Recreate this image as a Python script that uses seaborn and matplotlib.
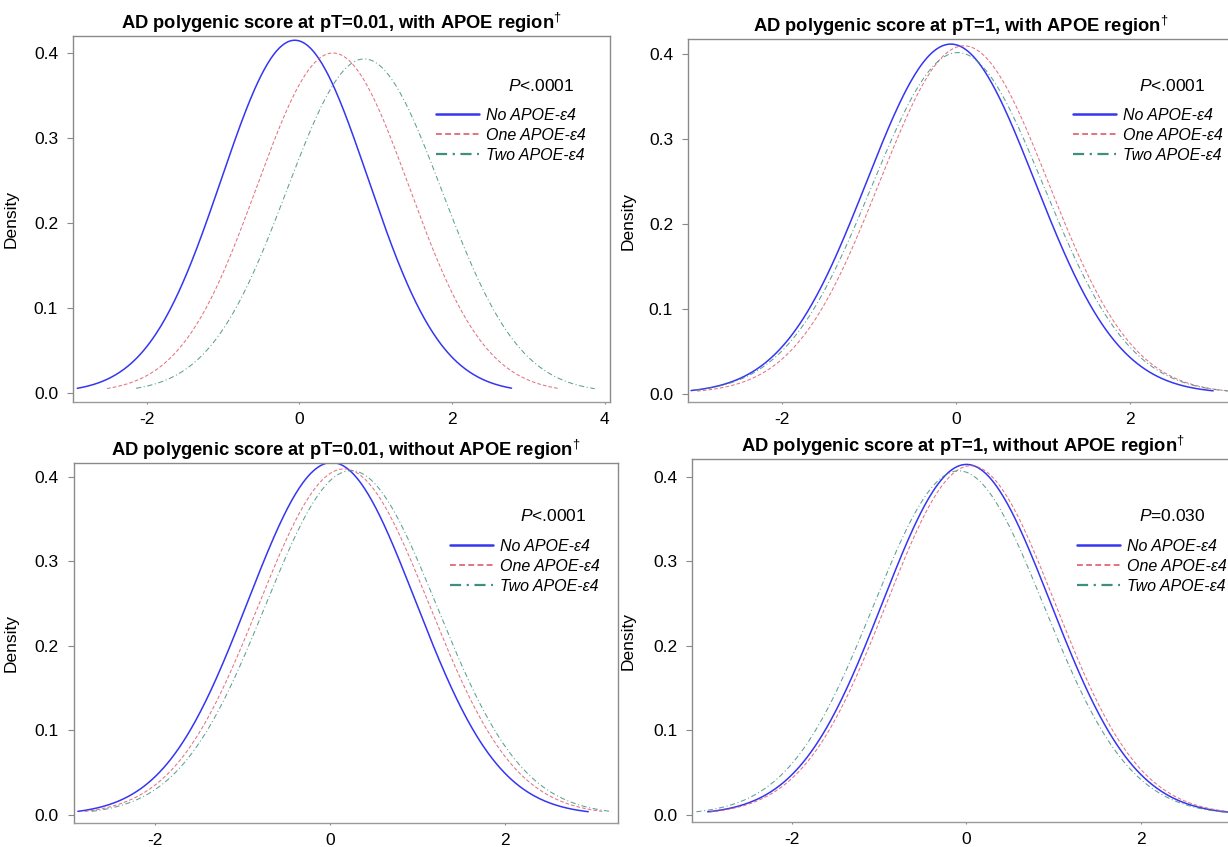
import numpy as np
import pandas as pd
import matplotlib
matplotlib.use("Agg")
import matplotlib.pyplot as plt
import seaborn as sns

# groups and panels
groups = ["No APOE-ε4", "One APOE-ε4", "Two APOE-ε4"]
titles = ["AD polygenic score at pT=0.01, with APOE region",
          "AD polygenic score at pT=1, with APOE region",
          "AD polygenic score at pT=0.01, without APOE region",
          "AD polygenic score at pT=1, without APOE region"]
p_texts = ["<.0001", "<.0001", "<.0001", "=0.030"]

# density curves: peak location, peak height, start / end of curve
peak_x = [[-0.06, 0.44, 0.85],
          [-0.06, 0.09, 0.02],
          [0.02, 0.16, 0.24],
          [0.00, 0.05, -0.09]]
peak_y = [[0.415, 0.400, 0.393],
          [0.412, 0.410, 0.402],
          [0.4166, 0.409, 0.407],
          [0.4146, 0.413, 0.407]]
x_start = [[-2.91, -2.52, -2.14],
           [-3.05, -2.98, -3.00],
           [-2.88, -2.80, -2.72],
           [-2.97, -2.95, -3.10]]
x_end = [[2.78, 3.39, 3.87],
         [2.96, 3.25, 3.22],
         [2.95, 3.11, 3.22],
         [3.10, 3.15, 3.00]]

x_ticks = [[-2, 0, 2, 4], [-2, 0, 2], [-2, 0, 2], [-2, 0, 2]]
y_ticks = [0.0, 0.1, 0.2, 0.3, 0.4]

colors = ["#3535f2", "#de5a6c", "#3f8f80"]
lstyles = ["-", (0, (3.5, 2)), (0, (5, 2.5, 1, 2.5))]
lwidths = [1.1, 0.75, 0.75]

sns.set_style("ticks")
plt.rcParams["font.family"] = ["Liberation Sans", "DejaVu Sans"]
plt.rcParams["mathtext.fontset"] = "custom"
plt.rcParams["mathtext.rm"] = "Liberation Sans"
plt.rcParams["mathtext.it"] = "Liberation Sans:italic"
plt.rcParams["mathtext.bf"] = "Liberation Sans:bold"
plt.rcParams["axes.unicode_minus"] = False
plt.rcParams["text.color"] = "black"
plt.rcParams["axes.labelcolor"] = "black"
plt.rcParams["xtick.labelcolor"] = "black"
plt.rcParams["ytick.labelcolor"] = "black"

W, H = 1228, 847
fig = plt.figure(figsize=(W / 100, H / 100), dpi=100)

# pixel boxes: left, top, right, bottom
boxes = [(72.7, 36, 610, 402), (687.6, 39, 1234, 402),
         (73.5, 463, 618, 823), (692, 459, 1234, 822)]
xlims = [(-2.97, 4.07), (-3.09, 3.2), (-2.93, 3.29), (-3.15, 3.07)]
ylims = [(-0.011, 0.42), (-0.010, 0.418), (-0.0095, 0.416), (-0.0085, 0.421)]
leg_pos = [(436, 108), (1073, 108), (450, 539), (1077, 539)]
p_pos = [(574, 86), (1205, 86), (586, 516), (1206, 516)]
dens_x = [19, 636, 19, 636]

for k in range(4):
    l, t, r, b = boxes[k]
    ax = fig.add_axes([l / W, 1 - b / H, (r - l) / W, (b - t) / H])
    for g in range(3):
        mu = peak_x[k][g]
        sd = 1 / (peak_y[k][g] * np.sqrt(2 * np.pi))
        xs = np.linspace(x_start[k][g], x_end[k][g], 400)
        ys = np.exp(-0.5 * ((xs - mu) / sd) ** 2) / (sd * np.sqrt(2 * np.pi))
        df = pd.DataFrame({"score": xs, "density": ys})
        sns.lineplot(data=df, x="score", y="density", ax=ax, color=colors[g],
                     linestyle=lstyles[g], linewidth=lwidths[g], label=groups[g],
                     estimator=None, sort=False, alpha=1.0 if g == 0 else 0.85)
    ax.set_xlim(*xlims[k])
    ax.set_ylim(*ylims[k])
    ax.set_xticks(x_ticks[k])
    ax.set_xticklabels([str(v) for v in x_ticks[k]])
    ax.set_yticks(y_ticks)
    ax.set_yticklabels([f"{v:.1f}" for v in y_ticks])
    ax.tick_params(labelsize=12.5, width=0.8, color="#888888", labelcolor="black")
    ax.tick_params(axis="y", length=4, pad=6.5)
    ax.tick_params(axis="x", length=1.5, pad=5.5)
    for s in ax.spines.values():
        s.set_color("#8a8a8a")
        s.set_linewidth(1.0)
    ax.spines["bottom"].set_color("#9a9a9a")
    ax.set_xlabel("")
    ax.set_ylabel("Density", fontsize=12.5, color="black")
    ax.yaxis.set_label_coords((dens_x[k] - l) / (r - l), 0.5)
    ax.set_title(titles[k] + r"$^{\dagger}$", fontsize=13.2, fontweight="bold",
                 pad=5, color="black")

    lx, ly = leg_pos[k]
    leg = ax.legend(loc="upper left", bbox_to_anchor=(lx / W, 1 - ly / H),
                    bbox_transform=fig.transFigure, frameon=False,
                    prop={"style": "italic", "size": 11.5}, borderpad=0,
                    borderaxespad=0, handlelength=2.7, handletextpad=0.45,
                    labelspacing=0.3)
    for txt in leg.get_texts():
        txt.set_color("black")
    for ln, w in zip(leg.get_lines(), [1.8, 1.2, 1.6]):
        ln.set_linewidth(w)
        ln.set_alpha(1.0)

    px, py = p_pos[k]
    fig.text(px / W, 1 - py / H, r"$\mathit{P}$" + p_texts[k], fontsize=12.5,
             ha="right", va="center", color="black")

fig.savefig("out.png", dpi=100)
